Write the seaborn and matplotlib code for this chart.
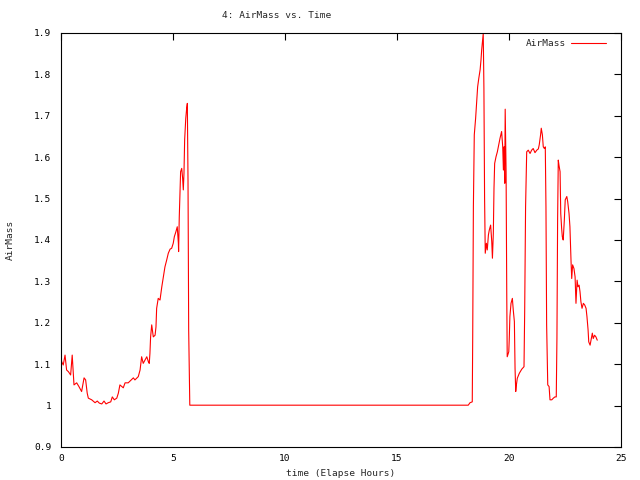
import matplotlib
matplotlib.use("Agg")
import matplotlib.pyplot as plt
import seaborn as sns
import pandas as pd

# elapsed time (hours) and airmass
time_hours = [
    0.00, 0.03, 0.10, 0.18, 0.25, 0.33, 0.43, 0.50, 0.58, 0.70, 0.80, 0.92,
    1.03, 1.10, 1.17, 1.22, 1.37, 1.52, 1.62, 1.71, 1.82, 1.92, 2.01, 2.11,
    2.22, 2.29, 2.38, 2.49, 2.56, 2.63, 2.78, 2.86, 3.00, 3.23, 3.30, 3.45,
    3.53, 3.60, 3.67, 3.75, 3.83, 3.90, 3.94, 3.97, 4.00, 4.05, 4.12, 4.20,
    4.24, 4.27, 4.34, 4.42, 4.50, 4.57, 4.64, 4.72, 4.79, 4.87, 4.94, 5.01,
    5.06, 5.13, 5.19, 5.24, 5.25, 5.28, 5.34, 5.39, 5.43, 5.46, 5.49, 5.52,
    5.57, 5.61, 5.64, 5.67, 5.70, 5.75,
    18.18, 18.26, 18.36, 18.38, 18.41, 18.45, 18.51, 18.56, 18.60, 18.65,
    18.71, 18.75, 18.78, 18.83, 18.85, 18.88, 18.91, 18.94, 18.99, 19.03,
    19.08, 19.12, 19.18, 19.23, 19.26, 19.30, 19.33, 19.36, 19.42, 19.48,
    19.54, 19.60, 19.67, 19.72, 19.75, 19.78, 19.81, 19.83, 19.87, 19.90,
    19.92, 19.99, 20.01, 20.04, 20.09, 20.15, 20.19, 20.24, 20.27, 20.30,
    20.33, 20.37, 20.46, 20.57, 20.67, 20.70, 20.74, 20.79, 20.86, 20.94,
    21.01, 21.08, 21.16, 21.24, 21.31, 21.35, 21.41, 21.44, 21.49, 21.53,
    21.58, 21.62, 21.65, 21.68, 21.73, 21.79, 21.83, 21.91, 21.98, 22.05,
    22.11, 22.14, 22.17, 22.20, 22.23, 22.28, 22.31, 22.35, 22.38, 22.42,
    22.47, 22.51, 22.58, 22.62, 22.68, 22.72, 22.77, 22.80, 22.84, 22.90,
    22.95, 22.99, 23.04, 23.08, 23.13, 23.17, 23.21, 23.26, 23.32, 23.38,
    23.44, 23.48, 23.53, 23.56, 23.62, 23.66, 23.72, 23.76, 23.82, 23.88,
    23.94,
]
airmass = [
    1.115, 1.106, 1.098, 1.122, 1.086, 1.082, 1.074, 1.122, 1.050, 1.055, 1.046, 1.034,
    1.067, 1.062, 1.030, 1.018, 1.014, 1.007, 1.011, 1.006, 1.004, 1.011, 1.004, 1.007,
    1.009, 1.021, 1.014, 1.018, 1.030, 1.050, 1.043, 1.055, 1.055, 1.067, 1.062, 1.070,
    1.086, 1.118, 1.102, 1.110, 1.118, 1.106, 1.102, 1.126, 1.166, 1.195, 1.166, 1.170,
    1.190, 1.235, 1.259, 1.255, 1.287, 1.311, 1.335, 1.352, 1.368, 1.378, 1.380, 1.392,
    1.408, 1.420, 1.432, 1.392, 1.372, 1.456, 1.565, 1.573, 1.549, 1.521, 1.561, 1.642,
    1.694, 1.718, 1.730, 1.545, 1.183, 1.001,
    1.001, 1.007, 1.009, 1.166, 1.480, 1.654, 1.694, 1.738, 1.770, 1.790,
    1.811, 1.835, 1.859, 1.887, 1.899, 1.767, 1.501, 1.368, 1.392, 1.376,
    1.412, 1.424, 1.436, 1.396, 1.356, 1.416, 1.525, 1.585, 1.601, 1.613,
    1.630, 1.646, 1.662, 1.625, 1.569, 1.625, 1.537, 1.716, 1.565, 1.267,
    1.118, 1.130, 1.158, 1.215, 1.247, 1.259, 1.231, 1.203, 1.090, 1.034,
    1.050, 1.066, 1.078, 1.088, 1.094, 1.227, 1.480, 1.613, 1.617, 1.609,
    1.617, 1.621, 1.611, 1.617, 1.620, 1.630, 1.654, 1.670, 1.654, 1.625,
    1.621, 1.625, 1.480, 1.195, 1.050, 1.046, 1.014, 1.014, 1.018, 1.021,
    1.021, 1.163, 1.448, 1.593, 1.581, 1.565, 1.464, 1.428, 1.408, 1.400,
    1.448, 1.497, 1.505, 1.493, 1.464, 1.432, 1.348, 1.307, 1.340, 1.331,
    1.311, 1.247, 1.303, 1.287, 1.291, 1.275, 1.251, 1.235, 1.247, 1.243,
    1.235, 1.215, 1.183, 1.154, 1.146, 1.158, 1.175, 1.162, 1.170, 1.166,
    1.158,
]

x_ticks = [0, 5, 10, 15, 20, 25]
y_ticks = [0.9, 1.0, 1.1, 1.2, 1.3, 1.4, 1.5, 1.6, 1.7, 1.8, 1.9]
y_tick_labels = ["0.9", "1", "1.1", "1.2", "1.3", "1.4", "1.5", "1.6", "1.7", "1.8", "1.9"]

df = pd.DataFrame({"time": time_hours, "AirMass": airmass})

sns.set_style("white")
plt.rcParams["font.family"] = ["DejaVu Sans Mono"]
plt.rcParams["font.size"] = 6.8

fig = plt.figure(figsize=(6.4, 4.8), dpi=100)
ax = fig.add_axes([61 / 640, 33 / 480, 560 / 640, 414 / 480])

sns.lineplot(data=df, x="time", y="AirMass", ax=ax, sort=False, estimator=None,
             color="red", linewidth=0.8, label="AirMass")

ax.set_xlim(0, 25)
ax.set_ylim(0.9, 1.9)
ax.set_xticks(x_ticks)
ax.set_xticklabels([str(t) for t in x_ticks])
ax.set_yticks(y_ticks)
ax.set_yticklabels(y_tick_labels)
ax.tick_params(direction="in", length=5, width=0.8, top=True, right=True,
               labelsize=6.8, colors="black")
ax.tick_params(axis="x", pad=5)
ax.tick_params(axis="y", pad=7)
for side in ax.spines.values():
    side.set_color("black")
    side.set_linewidth(0.8)

# gnuplot puts the title a bit left of the plot centre
fig.text(277 / 640, 1 - 16 / 480, "4: AirMass vs. Time", ha="center", va="center",
         fontsize=6.8)
ax.set_xlabel("time (Elapse Hours)", fontsize=6.8, labelpad=4)
ax.set_ylabel("AirMass", fontsize=6.8, labelpad=14)

ax.legend(loc="upper right", bbox_to_anchor=(0.974, 0.985), frameon=False,
          markerfirst=False, handlelength=3.8, fontsize=6.8, borderaxespad=0,
          borderpad=0, handletextpad=0.5)

fig.savefig("out.png", dpi=100)
